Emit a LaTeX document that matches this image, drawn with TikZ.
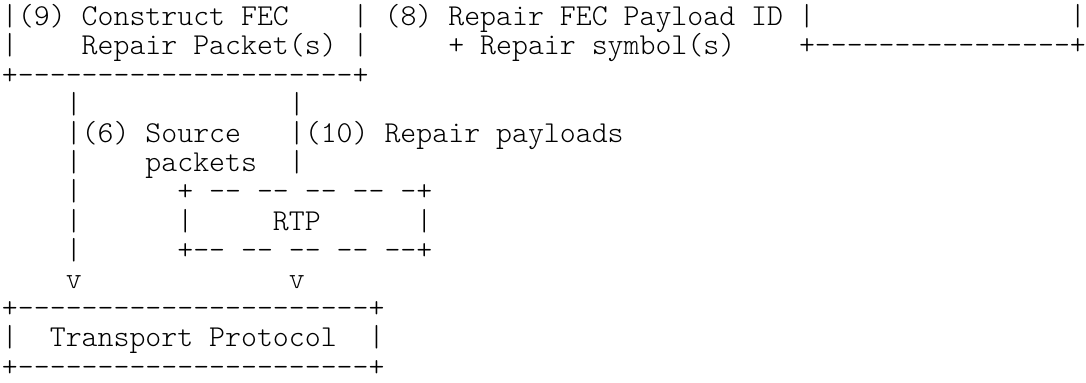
\documentclass[tikz,border=0pt]{standalone}
\usepackage{tikz}
\newcommand{\hy}{-\kern0pt}
\newcommand{\hrun}[1]{\foreach \k in {1,...,#1}{\hy}}
\tikzset{
    txt/.style={anchor=base west, inner sep=0pt, outer sep=0pt,
        font=\fontsize{15.18pt}{14.6pt}\ttfamily\fontseries{l}\selectfont}}

\begin{document}
\begin{tikzpicture}[x=7.97pt, y=14.6pt]

    \useasboundingbox (-1pt,12.9pt) rectangle (542pt,-178.6pt);

    % top boxes
    \node[txt] (fec) at (0,0) {|(9) Construct FEC};
    \node[txt] (payload) at (22,0) {| (8) Repair FEC Payload ID |};
    \node[txt] (rbox) at (67,0) {|};
    \node[txt] (fecl) at (0,-1) {|};
    \node[txt] (fec2) at (5,-1) {Repair Packet(s) |};
    \node[txt] (payload2) at (28,-1) {+ Repair symbol(s)};
    \node[txt] (rbox2) at (50,-1) {+\hrun{16}+};
    \node[txt] (fecbot) at (0,-2) {+\hrun{21}+};

    % flows down
    \foreach \r in {3,5,6,7,8}
        \node[txt] (lb\r) at (4,-\r) {|};
    \node[txt] (rb3) at (18,-3) {|};
    \node[txt] (src) at (4,-4) {|(6) Source};
    \node[txt] (rep) at (18,-4) {|(10) Repair payloads};
    \node[txt] (src2) at (9,-5) {packets};
    \node[txt] (rb5) at (18,-5) {|};

    % rtp box
    \node[txt] (rtptop) at (11,-6) {+~\hy\hy~\hy\hy~\hy\hy~\hy\hy~\hy+};
    \node[txt] (rtpl) at (11,-7) {|};
    \node[txt] (rtp) at (17,-7) {RTP};
    \node[txt] (rtpr) at (26,-7) {|};
    \node[txt] (rtpbot) at (11,-8) {+\hy\hy~\hy\hy~\hy\hy~\hy\hy~\hy\hy+};

    \node[txt] (va) at (4,-9) {v};
    \node[txt] (vb) at (18,-9) {v};

    % transport box
    \node[txt] (tptop) at (0,-10) {+\hrun{22}+};
    \node[txt] (tpl) at (0,-11) {|};
    \node[txt] (tp) at (3,-11) {Transport Protocol};
    \node[txt] (tpr) at (23,-11) {|};
    \node[txt] (tpbot) at (0,-12) {+\hrun{22}+};

\end{tikzpicture}
\end{document}
